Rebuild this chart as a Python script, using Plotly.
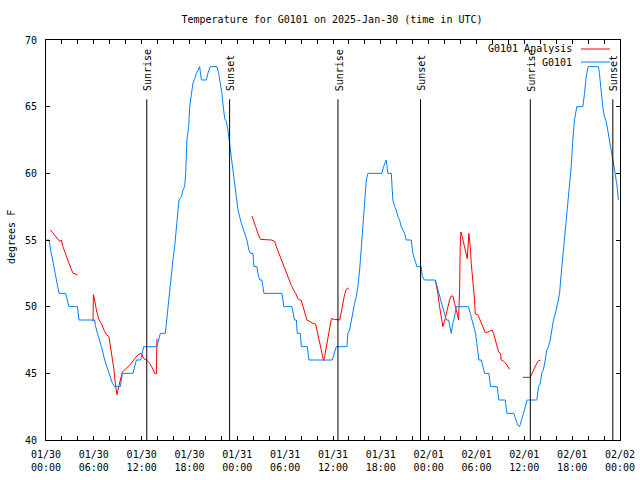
import plotly.graph_objects as go
import pandas as pd

BASE = pd.Timestamp("2025-01-30 00:00")

# Observed temperature (G0101): hours after 2025-01-30 00:00 UTC, degrees F
obs_hours = [0.1, 0.38, 0.59, 0.88, 1.22, 1.63, 2.47, 2.88, 3.94, 4.14,
             6.11, 6.19, 6.45, 6.73, 6.95, 7.36, 7.9, 8.33, 8.61, 9.33,
             9.58, 10.91, 11.34, 11.87, 12.25, 13.92, 14.34, 14.97, 15.1, 15.3,
             15.51, 15.72, 15.92, 16.14, 16.35, 16.55, 16.68, 16.98, 17.18, 17.39,
             17.52, 17.68, 17.89, 18.02, 18.23, 18.43, 18.65, 18.86, 19.27, 19.49,
             20.11, 20.31, 20.61, 21.44, 21.66, 21.87, 22.07, 22.19, 22.41, 22.62,
             22.82, 23.03, 23.25, 23.45, 23.66, 23.87, 24.08, 24.5, 24.92, 25.2,
             25.45, 25.63, 25.96, 26.08, 26.46, 26.58, 26.8, 27.08, 27.21, 27.34,
             29.59, 29.84, 30.85, 30.97, 31.18, 31.4, 31.52, 31.9, 32.03, 32.78,
             32.98, 35.91, 36.2, 36.41, 37.74, 37.87, 38.08, 38.29, 38.5, 38.71,
             38.92, 39.12, 39.34, 39.55, 39.75, 39.96, 40.18, 40.38, 42.13, 42.34,
             42.68, 42.88, 43.31, 43.51, 43.72, 43.94, 44.14, 44.35, 44.56, 44.77,
             44.98, 45.19, 45.82, 46.02, 46.23, 46.52, 47.07, 47.2, 47.49, 48.83,
             48.95, 49.15, 49.37, 49.58, 49.78, 49.99, 50.21, 50.5, 50.62, 50.83,
             51.03, 51.25, 51.46, 53.0, 53.22, 53.42, 53.67, 53.88, 54.04, 54.17,
             54.3, 54.6, 54.8, 55.01, 55.55, 55.76, 56.6, 56.8, 57.61, 57.81,
             58.68, 58.9, 59.18, 59.4, 59.61, 59.9, 60.34, 61.57, 61.78, 61.99,
             62.19, 62.4, 62.62, 62.82, 63.03, 63.25, 63.45, 63.66, 64.0, 64.2,
             64.42, 64.63, 64.83, 65.04, 65.25, 65.46, 65.67, 65.88, 66.08, 66.29,
             66.58, 67.34, 67.55, 67.76, 68.01, 69.3, 69.42, 69.64, 69.84, 70.05,
             70.26, 70.46, 70.68, 70.89, 71.09, 71.22, 71.39, 71.64, 71.8]
obs_temps = [55, 55, 54.25, 53.25, 52.25, 51, 51, 50, 50, 49,
             49, 48.6, 48, 47.5, 47, 46, 45, 44.25, 44, 44,
             45, 45, 46, 46, 47, 47, 48, 48, 48.75, 50,
             51.5, 52.5, 53.5, 54.5, 56, 57.5, 58, 58.25, 58.75, 59,
             60, 62.5, 63.5, 65, 66, 66.75, 67.1, 67.5, 68, 67,
             67, 67.5, 68, 68, 67.5, 66.75, 66, 65.25, 64.1, 63.9,
             63.25, 62.25, 61.25, 60.5, 59.5, 58.5, 57.25, 56.25, 55.5, 55,
             54.25, 54, 54, 53, 53, 52.5, 52, 52, 51.5, 51,
             51, 50, 50, 49.5, 49, 49, 48, 48, 47, 47,
             46, 46, 46.5, 47, 47, 48, 48.25, 49, 49.75, 50.25,
             50.75, 51.5, 52.75, 54.5, 56, 57.5, 59.5, 60, 60, 60.5,
             61, 60, 60, 58, 57.5, 57.25, 56.75, 56.5, 56, 55.75,
             55.5, 55, 55, 54, 53.5, 53, 53, 52.25, 52, 52,
             51.75, 51.25, 50.75, 50.25, 49.9, 49.5, 49, 49, 48.5, 48,
             48.75, 49.25, 50, 50, 49.5, 49, 48.5, 48, 47.25, 46.5,
             46, 46, 45.5, 45, 45, 44, 44, 43, 43, 42,
             42, 41.6, 41.1, 41, 41.4, 42, 43, 43, 44, 44.2,
             45, 45.3, 46, 46.75, 47, 47.5, 48.25, 49, 49.75, 50.25,
             51, 52.5, 53.75, 55, 56.25, 57.75, 59, 60.5, 62.5, 64,
             65, 65, 66, 67.25, 68, 68, 67.5, 66, 65, 64.25,
             63.9, 63.25, 62.5, 61.75, 61.25, 60.5, 60, 59, 58]

# Analysis (G0101 Analysis): None marks a gap between forecast segments
ana_hours = [0.55, 0.88, 1.22, 1.5, 1.72, 1.93, 2.13, 2.43, 2.76, 3.1, 3.39, 3.94,
             None,
             5.9, 5.94, 6.1, 6.32, 6.65, 6.95, 7.27, 7.57, 7.9, 8.11,
             8.33, 8.53, 8.74, 8.9, 9.12, 9.33, 9.58, 9.87, 10.28, 10.71,
             11.12, 11.54, 11.96, 12.25, 12.59, 13.0, 13.34, 13.63, 13.84, 13.92,
             None,
             25.84, 26.04, 26.3, 26.58, 26.88, 28.26, 28.68, 28.89, 29.22, 29.52,
             29.8, 30.14, 30.47, 30.77, 31.06, 31.31, 31.6, 31.81, 32.0, 32.23,
             32.44, 32.73, 33.07, 33.48, 33.82, 33.98, 34.2, 34.4, 34.61, 34.82,
             34.95, 35.16, 35.36, 35.57, 35.79, 36.2, 36.83, 37.04, 37.24, 37.45,
             37.67, 37.99,
             None,
             48.83, 49.03, 49.15, 49.37, 49.58, 49.78, 49.99, 50.21, 50.41, 50.62,
             50.83, 51.04, 51.25, 51.46, 51.66, 51.75, 51.88, 51.96, 52.04, 52.21,
             52.42, 52.63, 52.84, 53.04, 53.22, 53.34, 53.55, 53.76, 53.84, 54.17,
             54.38, 54.6, 54.8, 55.1, 55.42, 55.93, 56.14, 56.35, 56.55, 56.77,
             57.02, 57.1, 57.43, 57.85, 58.14,
             None,
             59.81, 60.73, 61.28, 61.69, 62.03]
ana_temps = [55.75, 55.5, 55.25, 55, 54.9, 55, 54.5, 54, 53.4, 52.9, 52.5, 52.4,
             None,
             48.9, 50.9, 50.5, 49.75, 49, 48.75, 48.25, 47.9, 47.75, 47,
             46.25, 45.25, 44, 43.4, 44, 44.5, 45.1, 45.25, 45.5, 45.75,
             46.1, 46.4, 46.5, 46.1, 46, 45.75, 45.4, 45, 44.95, 47.6,
             None,
             56.8, 56.5, 56, 55.5, 55.05, 55, 54.9, 54.5, 54, 53.5,
             53, 52.5, 52, 51.6, 51.25, 51, 50.6, 50.5, 50.5, 50,
             49.5, 49, 48.9, 48.75, 48.7, 48.25, 47.75, 47, 46.5, 45.95,
             46.25, 47, 47.75, 48.5, 49.1, 49.05, 49, 49.6, 50.25, 50.9,
             51.3, 51.4,
             None,
             52, 51.5, 51, 50, 49.25, 48.5, 48.9, 49.5, 50, 50.5,
             50.8, 50.8, 50.25, 49.6, 49.25, 49, 51.25, 54.5, 55.6, 55.25,
             54.75, 54.25, 53.6, 55.5, 54.5, 53.25, 52, 50.5, 49.45, 49.4,
             49.1, 48.75, 48.4, 48.05, 48.1, 48.25, 48, 47.5, 47, 46.6,
             46.5, 46, 45.9, 45.6, 45.3,
             None,
             44.7, 44.7, 45.4, 45.9, 46]

sun_hours = [12.64, 23.03, 36.62, 46.98, 60.75, 71.1]
sun_labels = ["Sunrise", "Sunset", "Sunrise", "Sunset", "Sunrise", "Sunset"]
sun_line_top = 65.55

x_tick_hours = list(range(0, 73, 2))
x_label_every = 6
y_ticks = [40, 45, 50, 55, 60, 65, 70]

TITLE = "Temperature for G0101 on 2025-Jan-30 (time in UTC)"
FONT = "DejaVu Sans Mono"
RED = "#ff0000"
BLUE = "#0080ff"


def to_time(h):
    return None if h is None else BASE + pd.Timedelta(hours=h)


obs_x = [to_time(h) for h in obs_hours]
ana_x = [to_time(h) for h in ana_hours]

fig = go.Figure()
fig.add_trace(go.Scatter(x=ana_x, y=ana_temps, mode="lines", name="G0101 Analysis",
                         line=dict(color=RED, width=1), connectgaps=False))
fig.add_trace(go.Scatter(x=obs_x, y=obs_temps, mode="lines", name="G0101",
                         line=dict(color=BLUE, width=1)))

shapes = []
annotations = []
for h, lab in zip(sun_hours, sun_labels):
    t = to_time(h)
    shapes.append(dict(type="line", xref="x", yref="y", x0=t, x1=t, y0=40, y1=sun_line_top,
                       line=dict(color="black", width=1)))
    annotations.append(dict(x=t, y=sun_line_top, xref="x", yref="y", text=lab,
                            textangle=-90, showarrow=False, xanchor="center", yanchor="bottom",
                            yshift=6, xshift=1, font=dict(family=FONT, size=10, color="black")))

# legend drawn gnuplot-style (text then sample line)
L, R, T, B = 46, 20, 40, 40
PW, PH = 640 - L - R, 480 - T - B


def px_x(px):
    return (px - L) / PW


def px_y(py):
    return (480 - B - py) / PH


legend_items = [("G0101 Analysis", RED, 49), ("G0101", BLUE, 62)]
for txt, col, py in legend_items:
    annotations.append(dict(x=px_x(574), y=px_y(py), xref="paper", yref="paper", text=txt,
                            showarrow=False, xanchor="right", yanchor="middle",
                            font=dict(family=FONT, size=10, color="black")))
    shapes.append(dict(type="line", xref="paper", yref="paper", x0=px_x(581), x1=px_x(610),
                       y0=px_y(py), y1=px_y(py), line=dict(color=col, width=1)))

annotations.append(dict(x=px_x(11), y=px_y(237), xref="paper", yref="paper", text="degrees F",
                        textangle=-90, showarrow=False, xanchor="center", yanchor="middle",
                        font=dict(family=FONT, size=10, color="black")))

tickvals = [to_time(h) for h in x_tick_hours]
ticktext = [to_time(h).strftime("%m/%d<br>%H:%M") if h % x_label_every == 0 else ""
            for h in x_tick_hours]

axis_common = dict(showline=True, linecolor="black", linewidth=1, mirror="ticks",
                   ticks="inside", ticklen=4, tickcolor="black", tickwidth=1,
                   showgrid=False, zeroline=False, automargin=False,
                   tickfont=dict(family=FONT, size=10, color="black"))

fig.update_layout(
    width=640, height=480,
    margin=dict(l=L, r=R, t=T, b=B, pad=0, autoexpand=False),
    paper_bgcolor="white", plot_bgcolor="white",
    showlegend=False,
    title=dict(text=TITLE, x=332 / 640, xref="container", xanchor="center",
               y=1 - 19 / 480, yref="container", yanchor="middle",
               font=dict(family=FONT, size=10, color="black")),
    xaxis=dict(type="date", range=[to_time(0), to_time(72)], tickmode="array",
               tickvals=tickvals, ticktext=ticktext, ticklabelstandoff=5, **axis_common),
    yaxis=dict(range=[40, 70], tickmode="array", tickvals=y_ticks,
               ticktext=[str(v) for v in y_ticks], ticklabelstandoff=6, **axis_common),
    shapes=shapes,
    annotations=annotations,
)

fig.write_html("out.html", config={"displayModeBar": False},
               post_script="document.body.style.margin='0';")
